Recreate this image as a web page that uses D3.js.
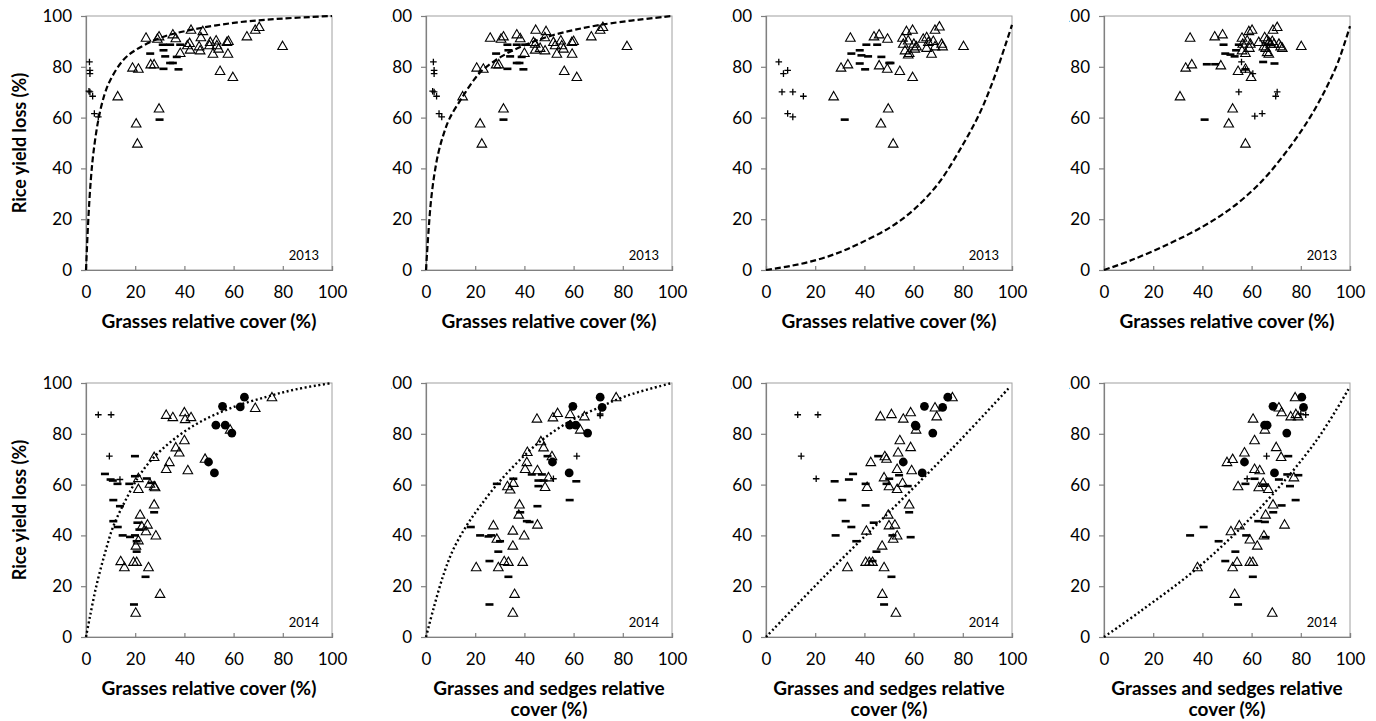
<!DOCTYPE html>
<html><head><meta charset="utf-8">
<script src="https://cdn.jsdelivr.net/npm/d3@7"></script>
<style>body{margin:0;background:#fff} text{font-family:Lato,"Open Sans",sans-serif;fill:#000}</style>
</head><body><svg id="c" width="1376" height="721"></svg>
<script>
const xTicks=[0,20,40,60,80,100];
const yTicks=[0,20,40,60,80,100];
const yTitle="Rice yield loss (%)";
const xTitleG=["Grasses relative cover (%)"];
const xTitleGS=["Grasses and sedges relative","cover (%)"];

// ---- Panel 1 (2013)
const p1Plus=[[1.4,81.9],[1.6,78.6],[1.6,77.3],[1.2,70.4],[1.6,70.1],[2.7,68.4],[3.4,61.6],[5.0,60.3]];
const p1Tri=[[24.4,91.5],[29.0,91.1],[29.7,92.0],[35.3,92.8],[36.5,91.3],[42.7,94.6],[47.5,94.1],[46.7,91.7],[42.1,89.4],[41.2,88.5],[38.3,85.5],[42.3,86.8],[46.0,88.1],[46.4,86.5],[50.5,89.8],[50.2,88.5],[52.9,90.4],[53.2,88.5],[51.6,85.2],[53.9,87.2],[57.3,89.8],[57.9,90.2],[57.7,85.2],[54.5,78.4],[59.7,76.0],[65.4,92.0],[68.8,94.6],[70.4,95.7],[79.9,88.2],[18.9,79.7],[21.3,79.3],[26.3,81.0],[27.7,81.0],[12.9,68.4],[29.7,63.6],[20.4,57.7],[20.9,49.8]];
const p1Dash=[[31.2,88.7],[34.2,88.7],[38.3,88.7],[26.1,85.2],[31.5,86.5],[32.2,84.1],[36.9,83.9],[34.2,81.5],[35.3,81.5],[31.5,79.2],[37.6,79.0],[29.9,59.2]];
const p1Curve=[[0,0],[1,21],[2,36],[3,46],[5,59],[7.5,69],[10,75],[15,82.5],[20,86.5],[30,91.3],[40,94],[60,97.3],[80,99],[100,100]];

// ---- Panel 2 (2013)
const p2Plus=[[3.0,81.9],[3.3,78.6],[3.3,77.3],[2.7,70.4],[3.3,70.1],[4.3,68.4],[5.3,61.6],[6.4,60.3]];
const p2Tri=[[26.1,91.5],[30.5,91.1],[31.5,92.0],[36.9,92.8],[38.3,91.3],[44.6,94.6],[48.8,94.1],[48.3,91.7],[43.7,89.8],[44.4,89.1],[44.4,86.8],[46.4,87.5],[40.0,85.5],[48.4,86.5],[51.8,89.8],[52.5,88.5],[54.8,90.4],[55.2,88.5],[53.2,85.2],[55.9,87.2],[59.3,89.8],[60.0,90.2],[59.4,85.2],[56.2,78.4],[61.3,76.0],[67.2,92.0],[70.8,94.6],[71.9,95.7],[81.7,88.2],[20.6,79.7],[23.3,79.3],[28.5,81.0],[29.6,81.0],[14.9,68.4],[31.5,63.6],[22.0,57.7],[22.7,49.8]];
const p2Dash=[[33.1,88.7],[36.9,88.7],[40.3,88.7],[28.5,85.2],[33.5,86.5],[34.2,84.1],[38.9,83.9],[36.9,81.5],[38.0,81.5],[33.1,79.2],[39.6,79.0],[31.5,59.2]];
const p2Curve=[[0,0],[1,15],[2,27],[3.3,37],[5,46],[7,53],[9.5,59.5],[15,68.4],[20,75.5],[23.3,79],[31.5,84.5],[40,88.5],[51.8,92.5],[70.8,96.5],[100,100]];

// ---- Panel 3 (2013)
const p3Plus=[[5.2,81.9],[7.1,77.3],[8.8,78.6],[6.5,70.1],[10.9,70.1],[15.2,68.4],[8.8,61.6],[10.9,60.3]];
const p3Tri=[[34.3,91.5],[43.9,92.0],[46.0,92.8],[49.4,91.1],[30.5,79.7],[33.3,81.0],[27.5,68.4],[46.0,80.6],[49.3,79.3],[54.4,78.4],[59.6,76.0],[49.7,63.6],[46.7,57.7],[51.7,49.8],[57.1,94.1],[59.6,94.6],[55.5,91.5],[57.8,90.4],[55.8,89.1],[60.1,89.1],[56.5,86.5],[58.2,85.5],[57.8,84.9],[60.5,87.2],[61.2,88.1],[63.9,91.1],[65.3,91.7],[66.0,89.8],[68.0,90.2],[68.7,94.6],[70.5,95.9],[71.4,89.1],[68.7,88.1],[67.3,85.2],[71.8,88.1],[65.3,87.5],[80.3,88.2]];
const p3Dash=[[40.8,88.7],[45.2,88.7],[34.7,85.2],[38.1,86.5],[38.8,84.5],[41.5,84.1],[46.9,83.9],[38.1,81.3],[50.1,81.5],[50.6,81.5],[40.3,79.0],[32.0,59.2]];
const p3Curve=[[0,0],[10,1.6],[20.4,3.9],[30,7],[38.1,10.5],[50,16.5],[59.9,23.6],[70,34],[80.3,49.8],[87,62],[92.5,75],[97.3,88.5],[100,96.5]];

// ---- Panel 4 (2013)
const p4Plus=[[55.9,81.9],[57.5,78.9],[60.5,77.3],[54.8,70.1],[70.4,70.1],[69.8,68.4],[64.3,61.6],[61.3,60.6]];
const p4Tri=[[35.0,91.5],[45.0,92.0],[48.2,92.8],[33.2,79.7],[35.7,81.0],[30.9,68.4],[47.5,80.6],[54.5,78.4],[57.5,79.3],[59.8,76.0],[52.3,63.6],[50.7,57.7],[57.5,49.8],[56.1,91.5],[58.9,94.1],[60.2,94.6],[58.2,90.4],[56.4,89.1],[59.5,89.1],[56.1,86.5],[57.5,85.5],[59.1,87.5],[62.9,89.8],[65.3,91.7],[66.3,90.7],[67.0,89.8],[67.7,89.1],[65.0,88.1],[65.7,87.5],[68.4,90.2],[69.1,89.1],[68.7,94.6],[70.4,95.7],[71.1,89.1],[71.8,88.1],[72.5,87.5],[67.0,85.2],[66.3,85.8],[80.2,88.2]];
const p4Dash=[[48.6,88.7],[54.8,88.7],[49.3,85.2],[51.4,84.8],[53.7,86.5],[53.1,84.1],[41.8,81.0],[45.2,81.0],[57.5,79.0],[64.7,81.9],[69.3,81.3],[40.9,59.2]];
const p4Curve=[[0,0],[11.2,3.9],[26.8,10.5],[40,17],[50.7,23.6],[60,31],[67,38],[76.6,49.8],[84,60.5],[90,71],[95,81.5],[100,96]];

// ---- Panel 5 (2014)
const p5Plus=[[5.0,87.5],[10.2,87.5],[9.5,71.2],[13.8,62.0]];
const p5Circ=[[55.5,90.8],[64.4,94.4],[62.7,90.6],[52.8,83.4],[56.6,83.4],[59.3,80.3],[49.8,68.9],[52.2,64.6]];
const p5Tri=[[32.6,87.5],[35.3,86.6],[40.0,88.5],[40.3,85.8],[42.7,86.6],[68.8,90.2],[75.6,94.4],[58.6,81.7],[40.0,77.5],[36.5,74.7],[37.9,72.7],[27.7,70.9],[33.9,68.9],[32.6,66.2],[41.4,65.7],[48.4,70.2],[21.3,62.6],[21.3,58.3],[26.0,60.4],[27.7,59.4],[28.1,59.0],[27.7,52.2],[22.0,48.2],[22.7,43.6],[25.0,44.3],[24.4,41.7],[28.4,40.0],[21.3,38.1],[20.3,36.0],[14.1,29.9],[15.6,27.5],[19.3,29.6],[20.6,29.6],[25.4,27.5],[30.1,17.0],[20.2,9.6]];
const p5Dash=[[7.7,64.2],[10.0,62.0],[10.9,61.6],[12.8,60.3],[17.6,60.3],[19.9,71.2],[19.9,63.3],[24.7,62.4],[26.7,60.7],[11.1,53.9],[13.8,51.5],[11.1,45.6],[12.9,43.3],[14.9,40.0],[17.9,39.4],[19.9,40.0],[20.6,37.7],[20.9,45.0],[21.7,42.3],[20.6,33.6],[27.7,49.1],[24.2,23.7],[19.5,12.8]];
const p5Curve=[[0,0],[1.6,8],[4.3,20.5],[7.7,33],[11.1,43.6],[15.9,53.5],[21.3,63],[26.7,69.8],[34.9,77.2],[45.7,84.3],[59.3,90.3],[73.5,94.6],[85.8,97.6],[100,100]];

// ---- Panel 6 (2014)
const p6Plus=[[70.8,87.8],[70.8,87.2],[61.3,71.2],[51.8,62.3]];
const p6Circ=[[70.8,94.4],[59.7,90.8],[71.6,90.4],[58.4,83.4],[60.9,83.4],[65.7,80.3],[51.4,68.9],[58.2,64.6]];
const p6Tri=[[77.3,94.4],[45.1,86.0],[51.6,86.5],[53.5,88.2],[58.6,87.8],[64.4,86.9],[62.7,81.7],[46.7,77.1],[47.8,74.7],[41.2,72.9],[41.0,68.9],[40.3,66.2],[45.3,65.7],[51.2,71.2],[49.8,62.9],[48.4,59.1],[35.5,60.7],[33.1,59.4],[34.2,58.1],[38.0,52.2],[37.7,48.2],[45.3,44.3],[27.4,44.0],[35.3,41.9],[39.9,40.0],[28.8,38.7],[35.3,36.0],[20.4,27.5],[29.4,27.5],[31.8,29.9],[33.5,29.6],[39.3,29.6],[36.0,17.0],[35.3,9.6]];
const p6Dash=[[28.8,60.3],[35.5,62.3],[49.4,71.2],[43.0,64.0],[47.1,64.0],[45.7,61.6],[47.8,61.6],[45.7,59.4],[61.1,61.3],[58.4,53.9],[45.3,51.5],[38.3,49.1],[41.0,45.6],[42.1,45.3],[18.2,43.3],[22.0,40.0],[25.4,39.6],[26.5,40.0],[30.1,37.7],[29.4,33.6],[25.8,29.9],[33.5,23.7],[25.8,12.8]];
const p6Curve=[[0,0],[3,11],[7.1,24.5],[11.1,34.5],[16.6,44],[22,51.5],[28.8,60],[36.9,68.5],[46.4,77],[58.6,85],[69.5,90],[81.7,95],[100,100]];

// ---- Panel 7 (2014)
const p7Plus=[[12.9,87.5],[21.1,87.5],[14.3,71.2],[20.4,62.3]];
const p7Circ=[[73.9,94.4],[64.4,90.8],[71.8,90.4],[60.7,83.4],[61.0,83.0],[67.8,80.3],[55.8,68.9],[63.5,64.6]];
const p7Tri=[[75.8,94.4],[46.5,86.9],[51.0,87.8],[55.8,86.0],[58.8,88.5],[68.7,90.4],[69.4,86.9],[61.0,81.7],[54.4,77.5],[58.8,74.8],[53.7,72.7],[42.6,68.9],[48.3,71.2],[49.0,70.2],[53.3,66.2],[59.2,65.7],[48.0,62.9],[55.5,60.7],[41.1,59.1],[50.0,59.4],[53.3,58.3],[58.2,52.2],[49.7,48.2],[50.0,44.0],[52.4,44.3],[40.8,41.9],[53.3,40.0],[51.7,38.7],[47.2,36.0],[40.5,29.6],[42.0,29.6],[43.3,29.6],[33.1,27.5],[48.0,27.5],[47.3,17.0],[52.8,9.6]];
const p7Dash=[[45.6,71.2],[35.4,64.2],[33.7,62.0],[27.9,61.3],[40.5,60.3],[50.1,62.3],[54.1,63.7],[49.0,60.3],[57.6,59.4],[31.0,53.9],[40.5,51.8],[58.2,49.1],[32.4,45.6],[34.7,43.3],[43.8,45.0],[28.3,40.0],[36.7,37.7],[51.4,40.0],[58.8,39.3],[44.9,33.6],[43.3,29.9],[51.0,23.7],[48.0,12.8]];
const p7Curve=[[0,0],[24.5,24.6],[49.7,48.8],[75,73.5],[99,98.3]];

// ---- Panel 8 (2014)
const p8Plus=[[82.0,87.5],[80.0,87.8],[66.1,71.2],[58.2,62.3]];
const p8Circ=[[80.4,94.4],[68.7,90.8],[81.1,90.4],[65.3,83.4],[66.3,83.4],[74.3,80.3],[57.1,68.9],[69.3,64.6]];
const p8Tri=[[77.7,94.4],[71.1,90.4],[72.2,88.5],[60.6,86.0],[75.9,86.9],[78.0,87.8],[78.9,86.9],[65.4,81.7],[61.2,77.5],[70.0,74.8],[57.1,72.7],[50.0,68.9],[52.3,70.1],[72.0,70.9],[61.2,66.2],[63.3,65.7],[77.2,62.9],[64.7,60.7],[54.5,59.4],[62.9,59.0],[66.8,58.3],[68.7,52.2],[65.7,48.2],[55.0,44.0],[73.4,44.3],[51.6,41.7],[65.0,40.0],[59.3,38.4],[62.3,36.0],[38.0,27.5],[54.1,29.6],[59.3,29.6],[60.5,29.6],[52.3,27.5],[53.1,17.0],[68.4,9.6]];
const p8Dash=[[74.9,71.2],[74.5,64.0],[79.0,63.7],[71.1,62.0],[75.6,59.4],[77.9,53.9],[61.2,62.3],[57.5,60.3],[65.3,60.0],[72.2,51.8],[68.8,49.1],[62.7,45.6],[65.4,45.3],[40.5,43.3],[35.0,40.0],[57.8,40.0],[46.6,37.7],[65.7,39.3],[53.4,33.6],[49.3,29.9],[60.5,23.7],[54.5,12.8]];
const p8Curve=[[0,0],[14.6,10],[38.4,27.5],[63.6,50.9],[86.1,77],[99.5,97.8]];

const panels=[
 {col:0,row:0,year:"2013",tri:p1Tri,dash:p1Dash,plus:p1Plus,circ:[],curve:p1Curve,xt:xTitleG,yt:true},
 {col:1,row:0,year:"2013",tri:p2Tri,dash:p2Dash,plus:p2Plus,circ:[],curve:p2Curve,xt:xTitleG},
 {col:2,row:0,year:"2013",tri:p3Tri,dash:p3Dash,plus:p3Plus,circ:[],curve:p3Curve,xt:xTitleG},
 {col:3,row:0,year:"2013",tri:p4Tri,dash:p4Dash,plus:p4Plus,circ:[],curve:p4Curve,xt:xTitleG},
 {col:0,row:1,year:"2014",tri:p5Tri,dash:p5Dash,plus:p5Plus,circ:p5Circ,curve:p5Curve,xt:xTitleG,yt:true},
 {col:1,row:1,year:"2014",tri:p6Tri,dash:p6Dash,plus:p6Plus,circ:p6Circ,curve:p6Curve,xt:xTitleGS},
 {col:2,row:1,year:"2014",tri:p7Tri,dash:p7Dash,plus:p7Plus,circ:p7Circ,curve:p7Curve,xt:xTitleGS},
 {col:3,row:1,year:"2014",tri:p8Tri,dash:p8Dash,plus:p8Plus,circ:p8Circ,curve:p8Curve,xt:xTitleGS}
];

const colX=[86,426,766,1104], rowY=[16,383], PW=246, PH=254;
const svg=d3.select("#c");
const defs=svg.append("defs");

panels.forEach((p,i)=>{
  const x0=colX[p.col], y0=rowY[p.row];
  const outer=svg.append("g");
  if(p.col>0){
    defs.append("clipPath").attr("id","cl"+i).append("rect")
      .attr("x",x0-35).attr("y",y0-20).attr("width",PW+60).attr("height",PH+120);
    outer.attr("clip-path",`url(#cl${i})`);
  }
  const g=outer.append("g").attr("transform",`translate(${x0},${y0})`);
  const x=d3.scaleLinear().domain([0,100]).range([0,PW]);
  const y=d3.scaleLinear().domain([0,100]).range([PH,0]);

  g.append("rect").attr("width",PW).attr("height",PH).attr("fill","none").attr("stroke","#a0a0a0").attr("stroke-width",1);

  const ya=g.append("g").call(d3.axisLeft(y).tickValues(yTicks).tickSize(5).tickPadding(9));
  const xa=g.append("g").attr("transform",`translate(0,${PH})`).call(d3.axisBottom(x).tickValues(xTicks).tickSize(-4).tickPadding(16));
  [ya,xa].forEach(a=>{
    a.select(".domain").attr("stroke","#808080").attr("stroke-width",1.2);
    a.selectAll(".tick line").attr("stroke","#808080").attr("stroke-width",1.2);
    a.selectAll(".tick text").style("font-family","Lato").style("font-size","17px").attr("fill","#000");
  });

  // fitted curve
  const line=d3.line().x(d=>x(d[0])).y(d=>y(d[1])).curve(d3.curveCatmullRom.alpha(0.5));
  const path=g.append("path").datum(p.curve).attr("d",line).attr("fill","none").attr("stroke","#000");
  if(p.row===0) path.attr("stroke-width",2.2).attr("stroke-dasharray","6,3");
  else path.attr("stroke-width",2.4).attr("stroke-dasharray","2,2.6");

  // markers
  g.selectAll(".dash").data(p.dash).join("rect").attr("class","dash")
    .attr("x",d=>x(d[0])-4).attr("y",d=>y(d[1])-1.3).attr("width",8).attr("height",2.6).attr("fill","#000");
  g.selectAll(".tri").data(p.tri).join("path").attr("class","tri")
    .attr("transform",d=>`translate(${x(d[0])},${y(d[1])})`)
    .attr("d","M0,-4.8L4.8,3.6L-4.8,3.6Z").attr("fill","none").attr("stroke","#000").attr("stroke-width",1.1);
  g.selectAll(".plus").data(p.plus).join("path").attr("class","plus")
    .attr("transform",d=>`translate(${x(d[0])},${y(d[1])})`)
    .attr("d","M-3.3,0H3.3M0,-3.3V3.3").attr("stroke","#000").attr("stroke-width",1.3);
  g.selectAll(".circ").data(p.circ).join("circle").attr("class","circ")
    .attr("cx",d=>x(d[0])).attr("cy",d=>y(d[1])).attr("r",4.4).attr("fill","#000");

  // year label
  g.append("text").attr("x",PW-13).attr("y",PH-10).attr("text-anchor","end")
    .style("font-size","13px").text(p.year);

  // x title
  p.xt.forEach((t,k)=>{
    g.append("text").attr("x",PW/2).attr("y",PH+58+k*21).attr("text-anchor","middle")
      .style("font-size","19px").style("font-weight","bold").text(t);
  });
  if(p.yt){
    svg.append("text").attr("transform",`translate(26,${y0+PH/2}) rotate(-90)`).attr("text-anchor","middle")
      .style("font-size","18px").style("font-weight","bold").text(yTitle);
  }
});
</script></body></html>
